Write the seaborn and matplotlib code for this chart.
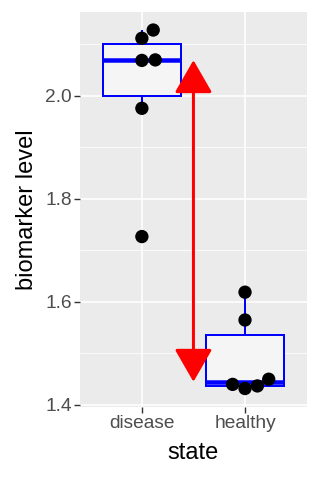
import numpy as np
import pandas as pd
import matplotlib
matplotlib.use("Agg")
import matplotlib.pyplot as plt
import seaborn as sns
from matplotlib.patches import FancyArrowPatch
from matplotlib.ticker import MultipleLocator

# ---- data ----
states = ["disease", "healthy"]
disease_values = [2.128, 2.112, 2.069, 2.070, 1.976, 1.727]
healthy_values = [1.619, 1.565, 1.440, 1.432, 1.437, 1.450]
# horizontal spread of the points (as drawn in the reference)
disease_spread = [0.11, 0.0, 0.0, 0.13, 0.0, 0.0]
healthy_spread = [0.0, 0.0, -0.12, 0.0, 0.12, 0.23]
y_ticks = [1.4, 1.6, 1.8, 2.0]

df = pd.DataFrame({
    "state": ["disease"] * len(disease_values) + ["healthy"] * len(healthy_values),
    "level": disease_values + healthy_values,
    "spread": disease_spread + healthy_spread,
})
df["xpos"] = df["state"].map({s: i for i, s in enumerate(states)}) + df["spread"]

sns.set_theme(style="darkgrid")
plt.rcParams["font.family"] = ["Liberation Sans", "DejaVu Sans"]

fig, ax = plt.subplots(figsize=(3.2, 4.8), dpi=100)
fig.subplots_adjust(left=0.25, right=0.959, top=0.975, bottom=0.152)
ax.set_facecolor("#EBEBEB")

px = 0.72  # points per pixel at 100 dpi

sns.boxplot(data=df, x="state", y="level", order=states, width=0.76,
            color="#F5F5F5", linecolor="blue", linewidth=2 * px,
            showfliers=False, showcaps=False, saturation=1,
            medianprops=dict(color="blue", linewidth=4.5 * px),
            whiskerprops=dict(color="blue", linewidth=2 * px),
            ax=ax, zorder=2)

sns.scatterplot(data=df, x="xpos", y="level", color="black", s=92,
                edgecolor="none", ax=ax, zorder=4, legend=False)

# arrow between group medians
med_d = float(np.median(disease_values))
med_h = float(np.median(healthy_values))
arrow = FancyArrowPatch((0.5, med_h), (0.5, med_d),
                        arrowstyle="<|-|>,head_length=20.5,head_width=11.8",
                        mutation_scale=1, color="red", linewidth=3 * px,
                        shrinkA=0, shrinkB=0, zorder=5)
ax.add_patch(arrow)

ax.set_xlim(-0.6, 1.6)
ax.set_ylim(1.396, 2.163)
ax.set_yticks(y_ticks)
ax.set_yticklabels([f"{t:.1f}" for t in y_ticks])
ax.yaxis.set_minor_locator(MultipleLocator(0.1))

ax.grid(which="major", color="white", linewidth=1.6 * px)
ax.grid(which="minor", axis="y", color="white", linewidth=0.8 * px)
ax.set_axisbelow(True)
for sp in ax.spines.values():
    sp.set_visible(False)

ax.tick_params(axis="both", which="major", length=4, width=1.4 * px,
               color="#333333", labelcolor="#4D4D4D", labelsize=13.8, pad=2,
               bottom=True, left=True)
ax.tick_params(axis="both", which="minor", length=0)

ax.set_xlabel("state", fontsize=17, color="black", labelpad=7)
ax.set_ylabel("biomarker level", fontsize=17, color="black", labelpad=5)

fig.savefig("out.png", dpi=100)
